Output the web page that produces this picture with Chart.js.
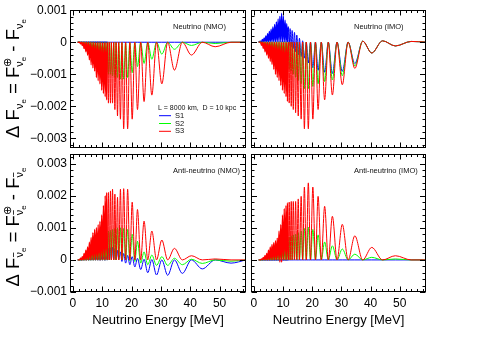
<!DOCTYPE html>
<html><head><meta charset="utf-8">
<script src="https://cdn.jsdelivr.net/npm/chart.js@4/dist/chart.umd.min.js"></script>
<style>
html,body{margin:0;padding:0;background:#fff;width:489px;height:338px;overflow:hidden}
canvas{position:absolute;left:0;top:0}
</style></head>
<body>
<canvas id="c0" width="489" height="338"></canvas>
<canvas id="c1" width="489" height="338"></canvas>
<canvas id="c2" width="489" height="338"></canvas>
<canvas id="c3" width="489" height="338"></canvas>
<script>
// ---------- data ----------
// energies of the oscillation extrema [MeV]
const energies = [1.6,
 2.3, 2.6, 2.9, 3.2, 3.5, 3.8, 4.1, 4.4, 4.7, 5.0,
 5.3, 5.6, 5.9, 6.2, 6.5, 6.8, 7.1, 7.4, 7.7, 8.0,
 8.3, 8.6, 8.9, 9.2, 9.5, 9.8, 10.1, 10.4, 10.7, 11.0,
 11.25, 11.5, 11.8, 12.1, 12.4, 12.8, 13.1, 13.5, 13.9, 14.3,
 14.7, 15.2, 15.6, 16.2, 16.7, 17.3, 17.96, 18.65, 19.4, 20.2,
 21.1, 22.0, 23.1, 24.25, 25.5, 26.9, 28.5, 30.3, 32.3, 34.6,
 37.3, 40.4, 44.1, 48.5, 53.9, 59];

// Neutrino (NMO)
const nuNMO_S1 = [0,
 0,0,0,0,0,0,0,0,0,0,
 0,0,0,0,0,0,0,0,0,0,
 0,0,0,0,0,0,0,0,0,0,
 0,0,0,0,0,0,0,0,0,0,
 0,0,0,0,0,0,0,0,0,0,
 0,0,0,0,0,0,0,0,0,0,
 0,0,0,0,0,0];
const nuNMO_S2 = [0,
 0,-0.00003,0,-0.00005,0,-0.0001,0,-0.00015,0,-0.0002,
 0,-0.0003,0,-0.0004,0,-0.00045,0,-0.0005,0,-0.0006,
 0,-0.00065,0,-0.0007,0,-0.0008,0,-0.00085,0,-0.0009,
 0,-0.00095,0,-0.001,0,-0.001,0,-0.00105,0,-0.0011,
 0,-0.0011,0,-0.00115,0,-0.00115,0,-0.0011,0,-0.00095,
 0,-0.00076,0,-0.00066,0,-0.00053,0,-0.00037,0,-0.00022,
 0,-0.0001,0,-0.00004,0,0];
const nuNMO_S3 = [0,
 0,-0.00005,0,-0.0001,0,-0.0002,0,-0.0003,0,-0.0004,
 0,-0.00055,0,-0.0007,0,-0.0008,0,-0.0009,0,-0.0011,
 0,-0.0012,0,-0.0013,0,-0.0015,0,-0.0016,0,-0.0017,
 0,-0.0018,0,-0.0019,0,-0.0019,0,-0.0019,0,-0.0021,
 0,-0.0023,0,-0.0024,0,-0.0027,0,-0.0027,0,-0.0024,
 0,-0.0021,0,-0.00185,0,-0.00165,0,-0.0013,0,-0.00087,
 0,-0.0004,0,-0.00014,0,0];

// Neutrino (IMO)
const nuIMO_S1 = [0,
 0.00003,0,0.00008,0,0.00013,0,0.00019,0,0.00026,0,
 0.00033,0,0.0004,0,0.00047,0,0.00055,0,0.00063,0,
 0.00072,0,0.0008,0,0.0009,0,0.0008,0,0.00068,0,
 0.00057,0,0.00048,-0.0001,0.00042,-0.00015,0.00036,-0.0002,0.0003,-0.0003,
 0.00022,-0.0004,0.00012,-0.00045,0.00004,-0.0005,0,-0.00065,0,-0.0008,
 0,-0.00088,0,-0.00094,0,-0.00098,0,-0.00091,0,-0.00067,
 0.00003,-0.00034,0.00004,-0.00012,0.00002,0];
const nuIMO_S2 = [0,
 0,-0.00005,0,-0.0001,0,-0.00015,0,-0.0002,0,-0.00025,
 0,-0.0003,0,-0.00035,0,-0.0004,0,-0.00045,0,-0.0005,
 0,-0.00055,0,-0.0006,0,-0.00065,0,-0.0007,0,-0.00075,
 0,-0.0008,0,-0.00085,0,-0.0009,0,-0.001,0,-0.0011,
 0,-0.0012,0,-0.0013,0,-0.00145,0,-0.00145,0,-0.00138,
 0,-0.0013,0,-0.00123,0,-0.00118,0,-0.00105,0,-0.00074,
 0.00003,-0.00034,0.00004,-0.00012,0.00002,0];
const nuIMO_S3 = [0,
 0,-0.0001,0,-0.0002,0,-0.0003,0,-0.0004,0,-0.0005,
 0,-0.0006,0,-0.0007,0,-0.00085,0,-0.001,0,-0.0011,
 0,-0.0012,0,-0.00135,0,-0.0015,0,-0.0016,0,-0.0017,
 0,-0.00185,0,-0.0019,0,-0.002,0,-0.0021,0,-0.0022,
 0,-0.0023,0,-0.0024,0,-0.0027,0,-0.0027,0,-0.0024,
 0,-0.0021,0,-0.0018,0,-0.00165,0,-0.00133,0,-0.00082,
 0.00003,-0.00034,0.00004,-0.00012,0.00002,0];

// Anti-neutrino (NMO)
const antiNMO_S1 = [0,
 0,0,0,0.00002,0,0.00004,0,0.00006,0,0.00008,
 0,0.0001,0,0.00012,0,0.00014,0,0.00016,0,0.00018,
 0,0.0002,0,0.00022,0,0.00025,0,0.00028,0,0.0003,
 0,0.00033,0,0.00036,0,0.00038,0,0.0004,0,0.00035,
 0,0.0003,0,0.00025,-0.00005,0.0002,-0.0001,0.00014,-0.00015,0.0001,
 -0.00022,0.00005,-0.0003,0.00002,-0.0004,0.00001,-0.00047,0,-0.00048,0,
 -0.00042,0,-0.00028,0,-0.0001,0];
const antiNMO_S2 = [0,
 0,0.00002,0,0.00005,0,0.0001,0,0.00015,0,0.0002,
 0,0.0003,0,0.0004,0,0.00045,0,0.0005,0,0.00055,
 0,0.0006,0,0.00065,0,0.0007,0,0.00075,0,0.0008,
 0,0.00085,0,0.0009,0,0.00092,0,0.00095,0,0.00098,
 0,0.001,0,0.001,0,0.00098,0,0.00095,-0.00003,0.0008,
 -0.00005,0.00058,-0.0001,0.00025,-0.00015,0.00015,-0.00017,0.0001,-0.00017,0.00005,
 -0.00015,0.00002,-0.00011,0,-0.00004,0];
const antiNMO_S3 = [0,
 0,0.00005,0,0.0001,0,0.0002,0,0.0003,0,0.0004,
 0,0.00055,0,0.0007,0,0.00085,0,0.00095,0,0.001,
 0,0.0011,0,0.0012,0,0.0014,0,0.0017,0,0.002,
 0,0.0021,0,0.0021,0,0.00215,0,0.0022,0,0.00205,
 0,0.00195,0,0.0022,0,0.00222,0,0.0022,0,0.0018,
 0,0.00157,0,0.00121,0,0.0009,0,0.00062,0,0.00036,
 0,0.00013,0,0.00003,0,0];

// Anti-neutrino (IMO)
const antiIMO_S1 = [0,
 0,0,0,0,0,0,0,0,0,0,
 0,0,0,0,0,0,0,0,0,0,
 0,0,0,0,0,0,0,0,0,0,
 0,0,0,0,0,0,0,0,0,0,
 0,0,0,0,0,0,0,0,0,0,
 0,0,0,0,0,0,0,0,0,0,
 0,0,0,0,0,0];
const antiIMO_S2 = [0,
 0,0.00001,0,0.00003,0,0.00005,0,0.00008,0,0.00012,
 0,0.00016,0,0.0002,0,0.00024,0,0.00028,0,0.00032,
 0,0.0004,0,0.00048,0,0.00055,0,0.0006,0,0.00065,
 0,0.0007,0,0.00072,0,0.00075,0,0.00078,0,0.0008,
 0,0.00085,0,0.0009,0,0.00098,0,0.00102,0,0.00095,
 0,0.00078,0,0.00056,0,0.00044,0,0.00034,0,0.00018,
 0,0.00008,0,0.00003,0,0];
const antiIMO_S3 = [0,
 0,0.00003,0,0.00008,0,0.00014,0,0.0002,0,0.0003,
 0,0.0004,0,0.00048,0,0.00054,0,0.0006,0,0.00068,
 0,0.0009,-0.00007,0.0011,-0.00007,0.0014,0,0.0016,0,0.0017,
 0,0.00178,0,0.0018,0,0.00182,0,0.00182,0,0.00182,
 0,0.0019,0,0.00198,0,0.00227,0,0.0024,0,0.00227,
 0,0.00198,0,0.00167,0,0.00136,0,0.00111,0,0.00075,
 0,0.00039,0,0.00013,0,0];

const seriesNames = ['S1', 'S2', 'S3'];
const xTickLabels = [0, 10, 20, 30, 40, 50];
const yTicksNu = [-0.003, -0.002, -0.001, 0, 0.001];
const yTicksAnti = [-0.001, 0, 0.001, 0.002, 0.003];
const panelLabels = ['Neutrino (NMO)', 'Neutrino (IMO)', 'Anti-neutrino (NMO)', 'Anti-neutrino (IMO)'];
const legendHeader = 'L = 8000 km,  D = 10 kpc';
const xTitle = 'Neutrino Energy [MeV]';

// ---------- styling / layout ----------
const W = 489, H = 338;
const COLORS = ['#0000ff', '#00ff00', '#ff0000'];
const FONT = '"Liberation Sans", Arial, Helvetica, sans-serif';
const X_MIN = -1, X_MAX = 59, X_MINOR = 2;
const Y_MINOR = 0.0002;
const XAXIS_H = 26;
const DENSE_E = 12.0;      // below this energy the oscillation is unresolved (drawn a bit thicker)

const panels = [
  {id:'c0', l:70,  r:246, t:10,  b:148, ymin:-0.0033, ymax:0.001,  yTicks:yTicksNu,   showX:false, showY:true,
   series:[nuNMO_S1, nuNMO_S2, nuNMO_S3], label:panelLabels[0], legend:true, yTitle:'nu'},
  {id:'c1', l:251, r:426, t:10,  b:148, ymin:-0.0033, ymax:0.001,  yTicks:yTicksNu,   showX:false, showY:false,
   series:[nuIMO_S1, nuIMO_S2, nuIMO_S3], label:panelLabels[1]},
  {id:'c2', l:70,  r:246, t:154, b:292, ymin:-0.001,  ymax:0.0033, yTicks:yTicksAnti, showX:true,  showY:true,
   series:[antiNMO_S1, antiNMO_S2, antiNMO_S3], label:panelLabels[2], yTitle:'anti'},
  {id:'c3', l:251, r:426, t:154, b:292, ymin:-0.001,  ymax:0.0033, yTicks:yTicksAnti, showX:true,  showY:false,
   series:[antiIMO_S1, antiIMO_S2, antiIMO_S3], label:panelLabels[3]}
];

function fmtY(v) {
  const r = Math.round(v * 1000);
  if (r === 0) return '0';
  return (r < 0 ? '\u2212' : '') + '0.00' + Math.abs(r);
}

function drawYTitle(ctx, bx, cy, anti) {
  const big = 18.5, sub = 11, sub2 = 8, sup = 10.5;
  const f = s => s + 'px ' + FONT;
  ctx.save();
  ctx.translate(bx, cy);
  ctx.rotate(-Math.PI / 2);
  ctx.fillStyle = '#000';
  ctx.strokeStyle = '#000';
  ctx.textBaseline = 'alphabetic';
  ctx.textAlign = 'left';
  const items = [
    {t:'\u0394 F', s:big, dy:0},
    {t:'\u03bd', s:sub, dy:4, bar:anti},
    {t:'e', s:sub2, dy:7},
    {t:' = F', s:big, dy:0},
    {stack:true},
    {t:' - F', s:big, dy:0},
    {t:'\u03bd', s:sub, dy:4, bar:anti},
    {t:'e', s:sub2, dy:7}
  ];
  let total = 0;
  const widths = items.map(it => {
    if (it.stack) {
      ctx.font = f(sup); const w1 = ctx.measureText('\u2295').width;
      ctx.font = f(sub); const w2 = ctx.measureText('\u03bd').width;
      ctx.font = f(sub2); const w3 = ctx.measureText('e').width;
      return Math.max(w1, w2 + w3);
    }
    ctx.font = f(it.s); return ctx.measureText(it.t).width;
  });
  widths.forEach(w => total += w);
  let x = -total / 2;
  items.forEach((it, i) => {
    if (it.stack) {
      ctx.font = f(sup); ctx.fillText('\u2295', x, -8);
      ctx.font = f(sub); ctx.fillText('\u03bd', x, 4);
      const wn = ctx.measureText('\u03bd').width;
      if (anti) { ctx.lineWidth = 0.8; ctx.beginPath(); ctx.moveTo(x + 0.5, -5.5); ctx.lineTo(x + wn - 0.5, -5.5); ctx.stroke(); }
      ctx.font = f(sub2); ctx.fillText('e', x + wn, 7);
    } else {
      ctx.font = f(it.s); ctx.fillText(it.t, x, it.dy);
      if (it.bar) { ctx.lineWidth = 0.8; ctx.beginPath(); ctx.moveTo(x + 0.5, it.dy - 9.5); ctx.lineTo(x + widths[i] - 0.5, it.dy - 9.5); ctx.stroke(); }
    }
    x += widths[i];
  });
  ctx.restore();
}

function panelPlugin(p) {
  return {
    id: 'frame_' + p.id,
    afterDraw(chart) {
      const ctx = chart.ctx, a = chart.chartArea, xs = chart.scales.x, ys = chart.scales.y;
      ctx.save();
      ctx.strokeStyle = '#000';
      ctx.lineWidth = 1;
      const L = Math.round(a.left) + 0.5, R = Math.round(a.right) - 0.5, T = Math.round(a.top) + 0.5, B = Math.round(a.bottom) - 0.5;
      ctx.strokeRect(L, T, R - L, B - T);
      ctx.beginPath();
      for (let k = Math.ceil(X_MIN / X_MINOR); k * X_MINOR <= X_MAX; k++) {
        const v = k * X_MINOR;
        const px = Math.round(xs.getPixelForValue(v)) + 0.5;
        const len = (v % 10 === 0) ? 5 : 2.5;
        ctx.moveTo(px, B); ctx.lineTo(px, B - len);
        ctx.moveTo(px, T); ctx.lineTo(px, T + len);
      }
      for (let k = Math.ceil(p.ymin / Y_MINOR - 1e-6); k * Y_MINOR <= p.ymax + 1e-9; k++) {
        const v = k * Y_MINOR;
        const py = Math.round(ys.getPixelForValue(v)) + 0.5;
        const len = (k % 5 === 0) ? 5.5 : 3;
        ctx.moveTo(L, py); ctx.lineTo(L + len, py);
        ctx.moveTo(R, py); ctx.lineTo(R - len, py);
      }
      ctx.stroke();

      ctx.fillStyle = '#111';
      ctx.font = '7.5px ' + FONT;
      ctx.textBaseline = 'middle';
      ctx.textAlign = 'left';
      ctx.fillText(p.label, a.left + 103, a.top + 17);

      if (p.legend) {
        ctx.font = '7px ' + FONT;
        ctx.fillText(legendHeader, a.left + 88, a.top + 97.5);
        seriesNames.forEach((n, k) => {
          const y = a.top + 105 + k * 7.8;
          ctx.strokeStyle = COLORS[k];
          ctx.beginPath(); ctx.moveTo(a.left + 89, y + 0.5); ctx.lineTo(a.left + 101, y + 0.5); ctx.stroke();
          ctx.fillStyle = '#111';
          ctx.font = '7.5px ' + FONT;
          ctx.fillText(n, a.left + 105, y + 0.5);
        });
      }
      if (p.showX) {
        ctx.fillStyle = '#000';
        ctx.font = '13px ' + FONT;
        ctx.textAlign = 'center';
        ctx.textBaseline = 'middle';
        ctx.fillText(xTitle, (a.left + a.right) / 2, 320);
      }
      if (p.yTitle === 'nu') drawYTitle(ctx, 19, 78.5, false);
      if (p.yTitle === 'anti') drawYTitle(ctx, 19, 227, true);
      ctx.restore();
    }
  };
}

function makeChart(p) {
  const datasets = p.series.map((vals, k) => ({
    label: seriesNames[k],
    data: energies.map((e, i) => ({x: e, y: vals[i]})),
    borderColor: COLORS[k],
    borderWidth: 1,
    segment: {borderWidth: c => (c.p1.parsed.x <= DENSE_E ? 1.4 : 1)},
    pointRadius: 0,
    fill: false,
    cubicInterpolationMode: 'monotone',
    order: 2 - k
  }));
  const yW = p.showY ? p.l : 0;
  const xH = p.showX ? XAXIS_H : 0;
  return new Chart(document.getElementById(p.id), {
    type: 'line',
    data: {datasets},
    options: {
      responsive: false,
      animation: false,
      events: [],
      layout: {padding: {left: p.l - yW, right: W - p.r, top: p.t, bottom: H - p.b - xH}},
      plugins: {legend: {display: false}, tooltip: {enabled: false}, title: {display: false}},
      scales: {
        x: {
          type: 'linear', position: 'bottom', min: X_MIN, max: X_MAX,
          grid: {display: false, drawTicks: false}, border: {display: false},
          afterFit: s => { s.height = xH; },
          afterBuildTicks: s => { s.ticks = xTickLabels.map(v => ({value: v})); },
          ticks: {display: p.showX, autoSkip: false, maxRotation: 0, minRotation: 0, padding: 4,
                  color: '#000', font: {family: FONT, size: 12}, callback: v => String(v)}
        },
        y: {
          type: 'linear', position: 'left', min: p.ymin, max: p.ymax,
          grid: {display: false, drawTicks: false}, border: {display: false},
          afterFit: s => { s.width = yW; },
          afterBuildTicks: s => { s.ticks = p.yTicks.map(v => ({value: v})); },
          ticks: {display: p.showY, autoSkip: false, padding: 3,
                  color: '#000', font: {family: FONT, size: 12}, callback: v => fmtY(v)}
        }
      }
    },
    plugins: [panelPlugin(p)]
  });
}

panels.forEach(makeChart);
</script>
</body></html>
